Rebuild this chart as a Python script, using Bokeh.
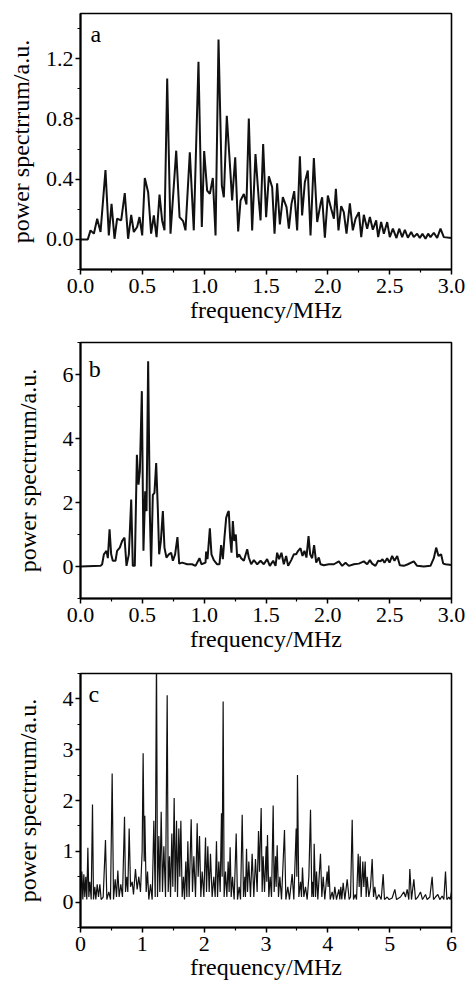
from bokeh.plotting import figure
from bokeh.layouts import column
from bokeh.models import FixedTicker, Label, NumeralTickFormatter, Range1d
from bokeh.embed import file_html
from bokeh.resources import INLINE

FONT = "Liberation Serif"
Y_LABEL = "power spectrrum/a.u."
X_LABEL = "frequency/MHz"

# ---------------- panel a ----------------
freq_a = [
    0.000, 0.059, 0.081, 0.108, 0.135, 0.162, 0.202, 0.229, 0.251, 0.275,
    0.296, 0.329, 0.358, 0.385, 0.410, 0.431, 0.458, 0.477, 0.499, 0.520,
    0.547, 0.571, 0.593, 0.615, 0.639, 0.660, 0.679, 0.701, 0.728, 0.774,
    0.801, 0.830, 0.849, 0.884, 0.916, 0.954, 0.981, 1.000, 1.024, 1.046,
    1.070, 1.092, 1.116, 1.143, 1.159, 1.183, 1.213, 1.226, 1.251, 1.275,
    1.294, 1.321, 1.342, 1.361, 1.388, 1.415, 1.442, 1.456, 1.477, 1.501,
    1.523, 1.550, 1.569, 1.590, 1.612, 1.636, 1.666, 1.685, 1.706, 1.728,
    1.752, 1.774, 1.792, 1.814, 1.838, 1.860, 1.887, 1.914, 1.941, 1.954,
    1.976, 2.000, 2.027, 2.049, 2.065, 2.086, 2.108, 2.129, 2.151, 2.178,
    2.202, 2.224, 2.251, 2.270, 2.291, 2.318, 2.340, 2.364, 2.391, 2.407,
    2.431, 2.453, 2.480, 2.501, 2.526, 2.555, 2.577, 2.601, 2.623, 2.647,
    2.674, 2.695, 2.722, 2.744, 2.765, 2.790, 2.811, 2.830, 2.857, 2.884,
    2.911, 2.938, 3.000,
]
power_a = [
    0.000, 0.000, 0.060, 0.038, 0.137, 0.049, 0.460, 0.026, 0.236, 0.004,
    0.137, 0.126, 0.307, 0.004, 0.163, 0.049, 0.082, 0.148, 0.026, 0.408,
    0.313, 0.038, 0.159, 0.015, 0.298, 0.126, 0.060, 1.068, 0.038, 0.589,
    0.148, 0.121, 0.060, 0.578, 0.060, 1.180, 0.082, 0.587, 0.324, 0.302,
    0.408, 0.026, 1.328, 0.357, 0.280, 0.821, 0.435, 0.258, 0.545, 0.053,
    0.258, 0.302, 0.232, 0.803, 0.060, 0.567, 0.258, 0.126, 0.633, 0.148,
    0.419, 0.346, 0.038, 0.373, 0.099, 0.280, 0.214, 0.071, 0.236, 0.320,
    0.060, 0.552, 0.159, 0.379, 0.457, 0.026, 0.540, 0.115, 0.236, 0.280,
    0.011, 0.291, 0.203, 0.137, 0.335, 0.060, 0.221, 0.181, 0.038, 0.240,
    0.060, 0.137, 0.181, 0.015, 0.163, 0.071, 0.148, 0.064, 0.126, 0.015,
    0.115, 0.038, 0.115, 0.015, 0.071, 0.009, 0.071, 0.015, 0.064, 0.011,
    0.049, 0.015, 0.038, 0.009, 0.038, 0.004, 0.038, 0.015, 0.044, 0.009,
    0.071, 0.015, 0.009,
]

# ---------------- panel b ----------------
freq_b = [
    0.000, 0.162, 0.175, 0.189, 0.210, 0.221, 0.235, 0.248, 0.261, 0.283,
    0.296, 0.318, 0.337, 0.356, 0.372, 0.391, 0.410, 0.423, 0.439, 0.456,
    0.469, 0.480, 0.496, 0.509, 0.523, 0.534, 0.547, 0.561, 0.571, 0.585,
    0.598, 0.612, 0.625, 0.636, 0.650, 0.666, 0.679, 0.695, 0.714, 0.733,
    0.747, 0.765, 0.784, 0.798, 0.822, 0.863, 0.903, 0.930, 0.962, 0.978,
    1.011, 1.016, 1.027, 1.046, 1.059, 1.078, 1.105, 1.124, 1.137, 1.151,
    1.164, 1.178, 1.191, 1.199, 1.210, 1.221, 1.232, 1.243, 1.256, 1.267,
    1.283, 1.299, 1.321, 1.348, 1.361, 1.380, 1.402, 1.429, 1.456, 1.482,
    1.509, 1.531, 1.558, 1.577, 1.590, 1.606, 1.625, 1.644, 1.663, 1.679,
    1.704, 1.725, 1.744, 1.760, 1.779, 1.795, 1.811, 1.827, 1.844, 1.857,
    1.873, 1.889, 1.906, 1.927, 1.941, 1.968, 2.008, 2.049, 2.089, 2.116,
    2.143, 2.170, 2.210, 2.251, 2.291, 2.318, 2.340, 2.358, 2.385, 2.407,
    2.426, 2.442, 2.458, 2.480, 2.499, 2.520, 2.539, 2.561, 2.582, 2.615,
    2.647, 2.695, 2.722, 2.776, 2.830, 2.857, 2.876, 2.895, 2.916, 2.933,
    2.951, 3.000,
]
power_b = [
    0.00, 0.02, 0.07, 0.38, 0.49, 0.26, 1.16, 0.38, 0.18, 0.18,
    0.49, 0.59, 0.80, 0.90, 0.02, 0.38, 2.09, 0.02, 0.02, 3.49,
    2.56, 2.97, 5.48, 0.49, 2.35, 1.73, 6.41, 1.62, 0.00, 2.24,
    2.30, 3.23, 1.83, 0.38, 0.80, 1.73, 0.59, 0.28, 0.38, 0.43,
    0.18, 0.38, 0.92, 0.09, 0.12, 0.07, 0.07, 0.02, 0.26, 0.07,
    0.12, 0.47, 0.23, 1.19, 0.38, 0.20, 0.07, 0.07, 0.67, 0.23,
    0.90, 1.52, 1.68, 1.73, 0.90, 0.43, 1.42, 0.80, 1.00, 0.28,
    0.38, 0.26, 0.18, 0.54, 0.28, 0.07, 0.20, 0.07, 0.18, 0.07,
    0.23, 0.02, 0.18, 0.02, 0.43, 0.23, 0.43, 0.07, 0.33, 0.02,
    0.20, 0.38, 0.38, 0.49, 0.57, 0.33, 0.49, 0.28, 0.95, 0.38,
    0.26, 0.67, 0.12, 0.28, 0.07, 0.04, 0.07, 0.07, 0.16, 0.02,
    0.12, 0.02, 0.07, 0.09, 0.16, 0.07, 0.20, 0.09, 0.02, 0.18,
    0.16, 0.23, 0.12, 0.26, 0.12, 0.33, 0.18, 0.33, 0.04, 0.02,
    0.07, 0.16, 0.02, 0.00, 0.02, 0.26, 0.59, 0.33, 0.38, 0.09,
    0.07, 0.05,
]

# ---------------- panel c ----------------
freq_c = [
    0.000, 0.022, 0.038, 0.054, 0.070, 0.086, 0.102, 0.119, 0.135, 0.151,
    0.173, 0.194, 0.210, 0.232, 0.248, 0.270, 0.291, 0.313, 0.334, 0.367,
    0.404, 0.426, 0.458, 0.485, 0.512, 0.534, 0.561, 0.582, 0.604, 0.625,
    0.652, 0.679, 0.712, 0.728, 0.749, 0.765, 0.787, 0.809, 0.836, 0.857,
    0.889, 0.916, 0.943, 0.970, 0.997, 1.013, 1.030, 1.040, 1.062, 1.084,
    1.105, 1.132, 1.159, 1.186, 1.208, 1.229, 1.245, 1.267, 1.283, 1.305,
    1.326, 1.348, 1.375, 1.402, 1.418, 1.439, 1.456, 1.477, 1.493, 1.515,
    1.531, 1.553, 1.569, 1.590, 1.606, 1.623, 1.644, 1.666, 1.682, 1.703,
    1.720, 1.736, 1.757, 1.790, 1.811, 1.833, 1.860, 1.887, 1.903, 1.925,
    1.946, 1.968, 1.995, 2.022, 2.038, 2.059, 2.081, 2.102, 2.129, 2.156,
    2.178, 2.199, 2.216, 2.237, 2.259, 2.280, 2.291, 2.307, 2.323, 2.345,
    2.367, 2.388, 2.404, 2.420, 2.437, 2.458, 2.485, 2.518, 2.539, 2.566,
    2.588, 2.615, 2.636, 2.658, 2.668, 2.685, 2.701, 2.722, 2.749, 2.776,
    2.803, 2.830, 2.857, 2.879, 2.895, 2.922, 2.938, 2.954, 2.976, 3.003,
    3.013, 3.024, 3.046, 3.067, 3.089, 3.116, 3.132, 3.154, 3.164, 3.181,
    3.202, 3.224, 3.251, 3.299, 3.321, 3.353, 3.380, 3.423, 3.450, 3.488,
    3.499, 3.509, 3.531, 3.558, 3.574, 3.590, 3.612, 3.639, 3.666, 3.693,
    3.720, 3.741, 3.757, 3.768, 3.779, 3.801, 3.817, 3.838, 3.881, 3.903,
    3.925, 3.951, 3.989, 4.005, 4.016, 4.038, 4.070, 4.092, 4.113, 4.140,
    4.178, 4.194, 4.210, 4.226, 4.248, 4.275, 4.313, 4.345, 4.367, 4.394,
    4.415, 4.442, 4.464, 4.491, 4.507, 4.523, 4.539, 4.566, 4.582, 4.604,
    4.620, 4.636, 4.663, 4.690, 4.717, 4.739, 4.760, 4.787, 4.825, 4.863,
    4.895, 4.916, 4.960, 4.992, 5.040, 5.084, 5.111, 5.175, 5.229, 5.256,
    5.283, 5.310, 5.326, 5.353, 5.391, 5.418, 5.456, 5.499, 5.531, 5.580,
    5.606, 5.650, 5.687, 5.709, 5.741, 5.779, 5.811, 5.849, 5.876, 5.903,
    5.925, 5.957, 5.978, 6.000,
]
power_c = [
    0.05, 0.60, 0.05, 0.55, 0.10, 0.50, 0.05, 1.07, 0.10, 0.40,
    0.05, 1.92, 0.05, 0.30, 0.05, 0.35, 0.10, 0.35, 0.05, 0.10,
    1.22, 0.05, 0.20, 0.05, 2.53, 0.05, 0.45, 0.10, 0.62, 0.10,
    0.35, 0.10, 1.68, 0.20, 0.50, 0.20, 1.45, 0.30, 0.40, 0.15,
    0.65, 0.25, 0.50, 0.20, 1.00, 2.93, 0.80, 1.70, 0.20, 0.60,
    0.05, 0.35, 0.05, 1.60, 0.10, 4.90, 0.10, 1.30, 0.20, 1.78,
    0.20, 1.10, 0.10, 4.07, 0.20, 0.90, 0.10, 1.35, 0.30, 2.05,
    0.20, 1.60, 0.10, 1.45, 0.50, 1.60, 0.10, 0.50, 0.05, 0.80,
    0.10, 1.20, 0.10, 1.63, 0.20, 0.90, 0.10, 1.55, 0.50, 1.30,
    0.10, 0.60, 0.10, 1.27, 0.20, 1.10, 0.20, 0.95, 0.10, 0.50,
    0.10, 1.20, 0.10, 0.80, 0.20, 1.75, 0.50, 3.95, 0.10, 0.60,
    0.10, 0.80, 0.20, 1.08, 0.10, 0.50, 0.05, 1.35, 0.05, 0.30,
    0.05, 1.72, 0.10, 0.50, 0.10, 1.05, 0.20, 0.80, 0.10, 0.95,
    0.10, 0.85, 0.20, 1.40, 0.60, 1.85, 0.20, 0.90, 0.20, 1.10,
    0.40, 1.32, 0.10, 0.50, 0.10, 1.90, 0.20, 0.90, 0.30, 1.12,
    0.10, 0.50, 0.05, 1.42, 0.05, 0.30, 0.05, 0.55, 0.05, 1.45,
    0.50, 2.50, 0.10, 0.40, 0.10, 0.68, 0.10, 0.30, 0.05, 0.50,
    1.82, 0.10, 0.40, 0.10, 1.15, 0.10, 0.60, 0.05, 0.95, 0.10,
    0.50, 0.05, 0.60, 0.30, 0.72, 0.05, 0.20, 0.05, 0.30, 0.05,
    0.25, 0.05, 0.30, 0.05, 0.38, 0.05, 0.45, 0.05, 0.10, 1.62,
    0.05, 0.15, 0.05, 0.95, 0.30, 0.90, 0.10, 0.80, 0.30, 0.80,
    0.10, 0.50, 0.10, 0.30, 0.85, 0.10, 0.30, 0.05, 0.15, 0.05,
    0.55, 0.05, 0.10, 0.05, 0.08, 0.25, 0.05, 0.10, 0.20, 0.10,
    0.25, 0.05, 0.65, 0.05, 0.45, 0.05, 0.10, 0.20, 0.05, 0.15,
    0.05, 0.10, 0.50, 0.05, 0.10, 0.15, 0.05, 0.12, 0.05, 0.60,
    0.05, 0.10, 0.05, 0.20,
]

# ticks
x_ticks_ab = [0.0, 0.5, 1.0, 1.5, 2.0, 2.5, 3.0]
x_minor_ab = [0.25, 0.75, 1.25, 1.75, 2.25, 2.75]
y_ticks_a = [0.0, 0.4, 0.8, 1.2]
y_minor_a = [-0.2, 0.2, 0.6, 1.0, 1.4]
y_ticks_b = [0, 2, 4, 6]
y_minor_b = [-1, 1, 3, 5, 7]
x_ticks_c = [0, 1, 2, 3, 4, 5, 6]
x_minor_c = [0.5, 1.5, 2.5, 3.5, 4.5, 5.5]
y_ticks_c = [0, 1, 2, 3, 4]
y_minor_c = [-0.5, 0.5, 1.5, 2.5, 3.5, 4.5]


def panel(fx, fy, letter, letter_xy, xr, yr, xt, xmt, yt, ymt, xfmt, yfmt,
          height, btop, bbot, lw, ylab_standoff, xlab_standoff):
    p = figure(width=468, height=height,
               x_range=Range1d(*xr), y_range=Range1d(*yr),
               output_backend="svg", toolbar_location=None,
               min_border_left=80, min_border_right=17,
               min_border_top=btop, min_border_bottom=bbot)
    p.grid.visible = False
    p.background_fill_color = "white"
    p.border_fill_color = "white"
    p.outline_line_color = "black"
    p.outline_line_width = 1.6
    p.outline_line_alpha = 1.0
    p.line(fx, fy, line_color="#111111", line_width=lw)

    xa, ya = p.xaxis[0], p.yaxis[0]
    xa.ticker = FixedTicker(ticks=xt, minor_ticks=xmt)
    ya.ticker = FixedTicker(ticks=yt, minor_ticks=ymt)
    xa.formatter = NumeralTickFormatter(format=xfmt)
    ya.formatter = NumeralTickFormatter(format=yfmt)
    for ax in (xa, ya):
        ax.axis_line_color = "black"
        ax.axis_line_width = 2
        ax.major_tick_line_color = "black"
        ax.minor_tick_line_color = "black"
        ax.major_tick_line_width = 1.5
        ax.minor_tick_line_width = 1.2
        ax.major_tick_in = 0
        ax.major_tick_out = 5
        ax.minor_tick_in = 0
        ax.minor_tick_out = 3
        ax.major_label_text_font = FONT
        ax.major_label_text_font_size = "22px"
        ax.major_label_text_color = "black"
        ax.axis_label_text_font = FONT
        ax.axis_label_text_font_size = "24px"
        ax.axis_label_text_font_style = "normal"
        ax.axis_label_text_color = "black"
    xa.axis_label = X_LABEL
    ya.axis_label = Y_LABEL
    xa.major_label_standoff = 4
    ya.major_label_standoff = 2
    xa.axis_label_standoff = xlab_standoff
    ya.axis_label_standoff = ylab_standoff

    p.add_layout(Label(x=letter_xy[0], y=letter_xy[1], text=letter,
                       text_font=FONT, text_font_size="24px",
                       text_color="black", text_baseline="alphabetic"))
    return p


pa = panel(freq_a, power_a, "a", (0.08, 1.362), (0, 3), (-0.2, 1.5),
           x_ticks_ab, x_minor_ab, y_ticks_a, y_minor_a, "0.0", "0.0",
           328, 13, 59, 2.0, 9, 1)
pb = panel(freq_b, power_b, "b", (0.067, 6.18), (0, 3), (-1, 7),
           x_ticks_ab, x_minor_ab, y_ticks_b, y_minor_b, "0.0", "0",
           328, 14, 58, 2.0, 19, 1)
pc = panel(freq_c, power_c, "c", (0.13, 4.10), (0, 6), (-0.5, 4.5),
           x_ticks_c, x_minor_c, y_ticks_c, y_minor_c, "0", "0",
           326, 17, 54, 1.2, 19, 0)

layout = column(pa, pb, pc, spacing=0)
open("out.html", "w").write(file_html(layout, INLINE, title="power spectrum"))
